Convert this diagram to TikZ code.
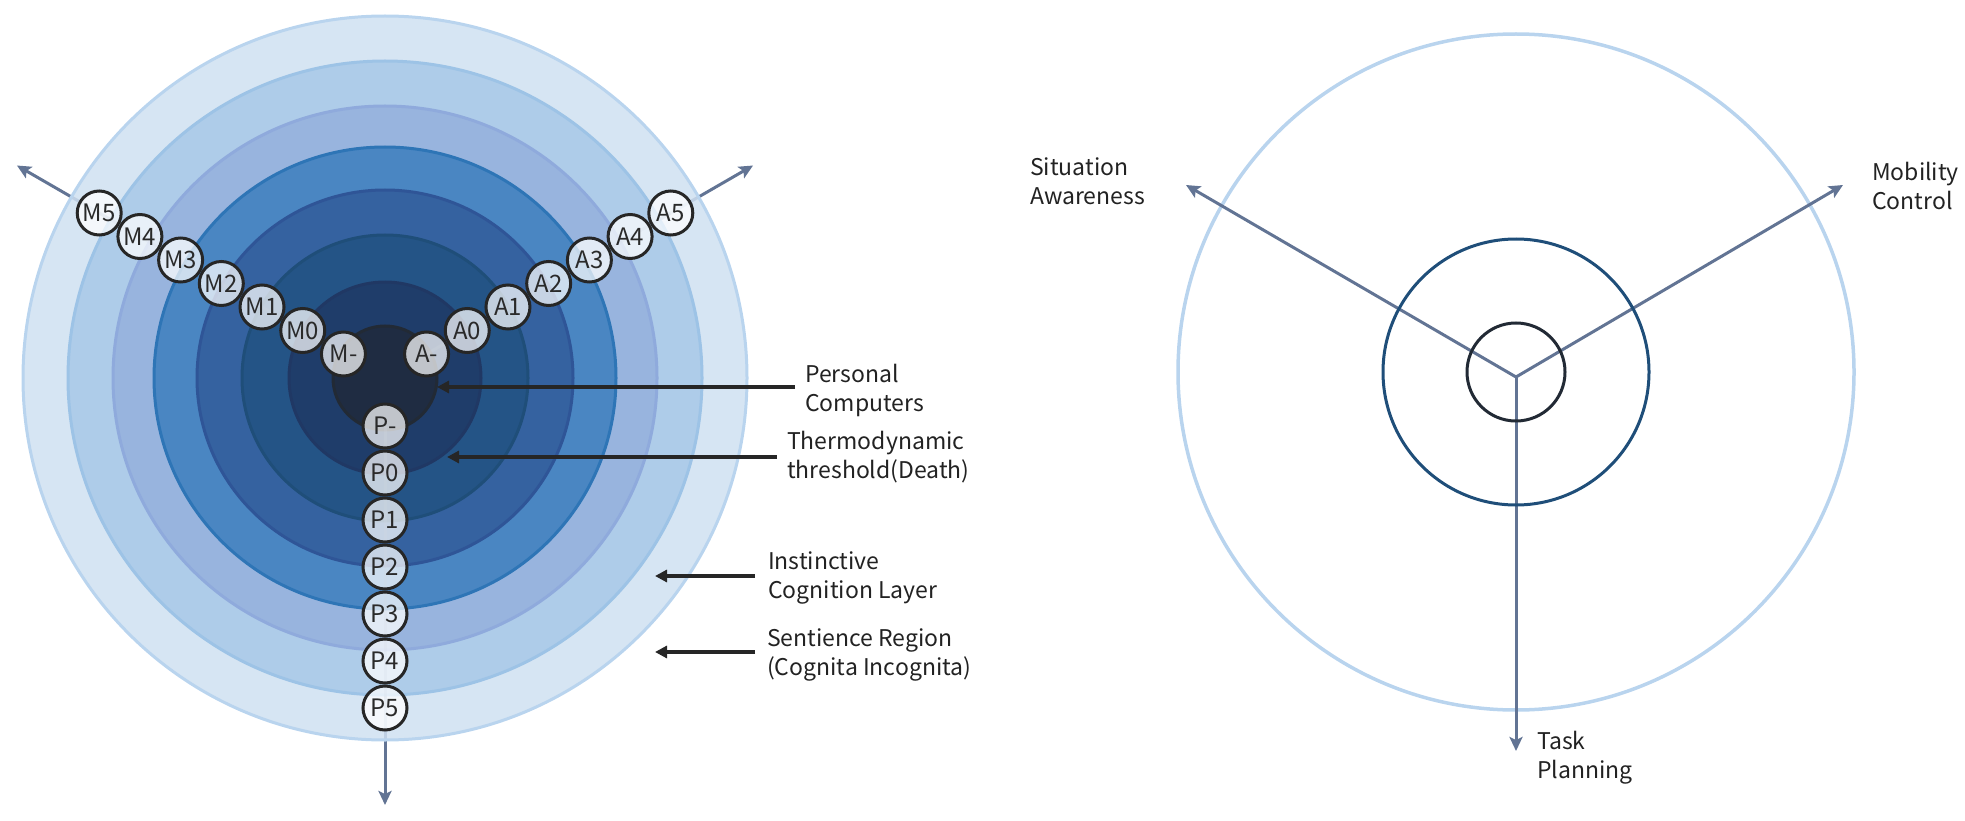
\documentclass[tikz,border=0pt]{standalone}
\usepackage{fontspec}
\setmainfont{Noto Sans CJK KR}
\usetikzlibrary{arrows.meta,calc}
\definecolor{slate}{HTML}{627494}
\definecolor{ptrcol}{HTML}{262626}
\definecolor{txt}{HTML}{222222}
\definecolor{chipline}{HTML}{262626}
\definecolor{chiptxt}{HTML}{2A2A2A}
\definecolor{ra}{HTML}{CFE0F1}\definecolor{rad}{HTML}{B9D4EE}
\definecolor{rb}{HTML}{AECCE9}\definecolor{rbd}{HTML}{9DC3E6}
\definecolor{rc}{HTML}{98B4DE}\definecolor{rcd}{HTML}{8FAADC}
\definecolor{rd}{HTML}{4A86C2}\definecolor{rdd}{HTML}{2E75B6}
\definecolor{re}{HTML}{3562A0}\definecolor{red}{HTML}{2F5597}
\definecolor{rf}{HTML}{245486}\definecolor{rfd}{HTML}{1F4E79}
\definecolor{rg}{HTML}{1F3D6A}\definecolor{rgd}{HTML}{203864}
\definecolor{rh}{HTML}{1F2C42}\definecolor{rhd}{HTML}{222A35}
\begin{document}
\begin{tikzpicture}[x=1pt,y=-1pt,
  lbl/.style={font=\fontsize{23}{29}\selectfont, align=left, anchor=west, inner sep=0pt, text=txt},
  chip/.style={circle, draw=chipline, line width=3pt, fill=white, fill opacity=0.72, text opacity=1,
    minimum size=44pt, inner sep=0pt, font=\fontsize{24}{24}\selectfont, text=chiptxt},
  axisarrow/.style={draw=slate, line width=3pt, -{Stealth[length=14pt,width=13pt,inset=3pt]}},
  ptr/.style={draw=ptrcol, line width=3.5pt, -{Triangle[length=12pt,width=12pt]}},
  ring/.style={line width=3pt}
]
\useasboundingbox (0,0) rectangle (1965,821);

% ---------------- left diagram ----------------
\coordinate (L) at (385,378);
\coordinate (tipm) at ($(L)+(210:425)$);
\coordinate (tipa) at ($(L)+(330:425)$);
\coordinate (tipp) at ($(L)+(90:427)$);
\draw[axisarrow] (L) -- (tipm);
\draw[axisarrow] (L) -- (tipa);
\draw[axisarrow] (L) -- (tipp);

\path[ring, fill=ra, fill opacity=0.85, draw=rad] (L) circle[radius=362];
\path[ring, fill=rb, draw=rbd] (L) circle[radius=317];
\path[ring, fill=rc, draw=rcd] (L) circle[radius=272];
\path[ring, fill=rd, draw=rdd] (L) circle[radius=231];
\path[ring, fill=re, draw=red] (L) circle[radius=188];
\path[ring, fill=rf, draw=rfd] (L) circle[radius=143];
\path[ring, fill=rg, draw=rgd] (L) circle[radius=96];
\path[ring, fill=rh, draw=rhd] (L) circle[radius=52];

% faint axis traces under the chips
\foreach \a/\n in {210/m,330/a,90/p}{
  \coordinate (\n first) at ($(L)+(\a:48)$);
  \coordinate (\n last) at ($(L)+(\a:330)$);
  \draw[slate, line width=3pt, opacity=0.2] (\n first) -- (\n last);
}

\foreach \lab [count=\i from 0] in {-,0,1,2,3,4,5}{
  \node[chip] (m\i) at ($(L)+(210:48+47*\i)$) {M\lab};
  \node[chip] (a\i) at ($(L)+(330:48+47*\i)$) {A\lab};
  \node[chip] (p\i) at ($(L)+(90:48+47*\i)$) {P\lab};
}

% labels with pointers
\node[lbl] (pc) at (805,390) {Personal\\Computers};
\node[lbl] (th) at (787,457) {Thermodynamic\\threshold(Death)};
\node[lbl] (ic) at (768,578) {Instinctive\\Cognition Layer};
\node[lbl] (sr) at (767,655) {Sentience Region\\(Cognita Incognita)};

\coordinate (t1) at (437,387);
\coordinate (t2) at (447,457);
\coordinate (t3) at (655,576);
\coordinate (t4) at (655,652);
\path (pc.west) ++(-10,0) coordinate (s1);
\path (th.west) ++(-10,0) coordinate (s2);
\path (ic.west) ++(-13,0) coordinate (s3);
\path (sr.west) ++(-12,0) coordinate (s4);
\draw[ptr] (s1 |- t1) -- (t1);
\draw[ptr] (s2 |- t2) -- (t2);
\draw[ptr] (s3 |- t3) -- (t3);
\draw[ptr] (s4 |- t4) -- (t4);

% ---------------- right diagram ----------------
\coordinate (R) at (1516,372);
\coordinate (hub) at (1516,377);
\coordinate (tsa) at (1186,185);
\coordinate (tmc) at (1843,185);
\coordinate (ttp) at (1516,751);
\draw[draw=rad, line width=3.5pt] (R) circle[radius=338];
\draw[axisarrow] (hub) -- (tsa);
\draw[axisarrow] (hub) -- (tmc);
\draw[axisarrow] (hub) -- (ttp);
\draw[draw=rfd, ring] (R) circle[radius=133];
\draw[draw=rhd, ring] (R) circle[radius=49];

\node[lbl] (sa) at (1030,181) {Situation\\Awareness};
\node[lbl] (mc) at (1872,186) {Mobility\\Control};
\node[lbl] (tp) at (1537,758) {Task\\Planning};
\end{tikzpicture}
\end{document}
